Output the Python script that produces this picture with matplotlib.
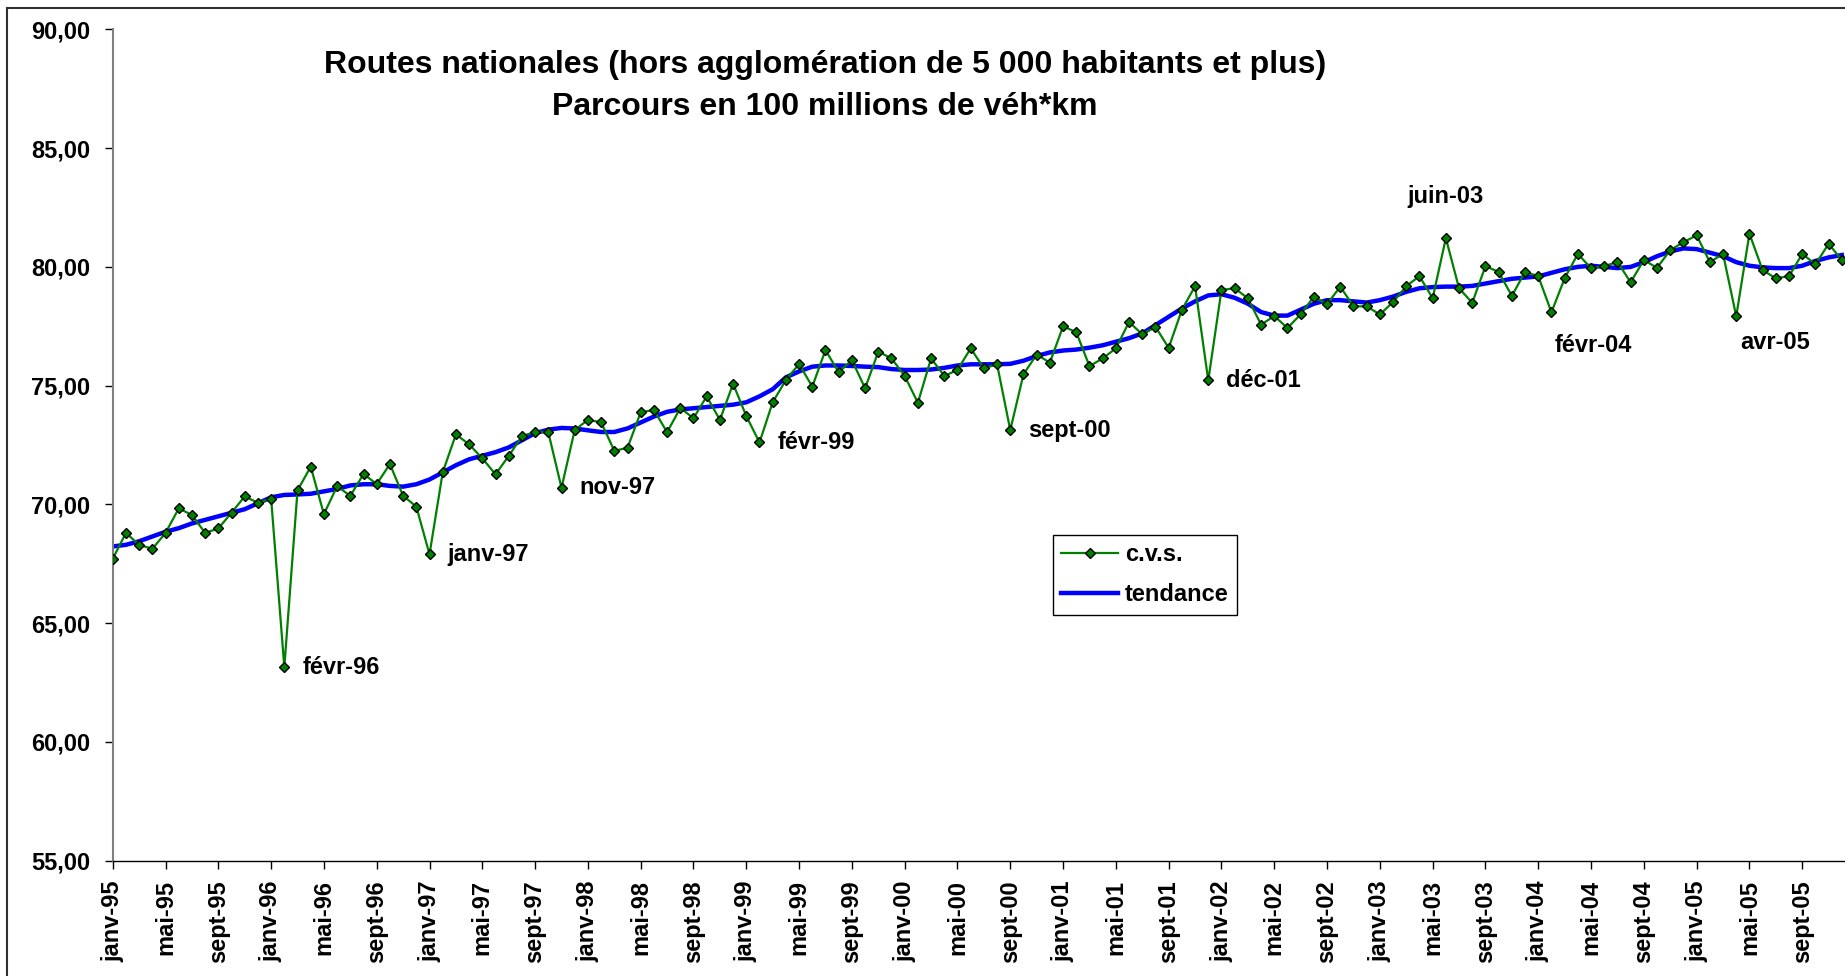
import matplotlib
matplotlib.use("Agg")
import matplotlib.pyplot as plt
from matplotlib.lines import Line2D
from matplotlib.patches import Rectangle
from matplotlib.ticker import FuncFormatter

plt.rcParams['font.family'] = ['Liberation Sans', 'DejaVu Sans']
plt.rcParams['font.weight'] = 'bold'

# mois janv-95 .. déc-05
mois = ['janv', 'févr', 'mars', 'avr', 'mai', 'juin',
        'juil', 'août', 'sept', 'oct', 'nov', 'déc']
annees = ['95', '96', '97', '98', '99', '00', '01', '02', '03', '04', '05']
categories = [m + '-' + a for a in annees for m in mois]

cvs = [67.71, 68.80, 68.30, 68.13, 68.80, 69.83, 69.56, 68.80, 68.99, 69.65, 70.34, 70.07,
       70.25, 63.15, 70.59, 71.59, 69.59, 70.77, 70.36, 71.28, 70.86, 71.70, 70.36, 69.91,
       67.90, 71.35, 72.95, 72.53, 71.94, 71.27, 72.04, 72.87, 73.06, 73.04, 70.70, 73.13,
       73.56, 73.46, 72.26, 72.38, 73.88, 73.98, 73.04, 74.06, 73.63, 74.55, 73.56, 75.08,
       73.72, 72.61, 74.30, 75.24, 75.91, 74.96, 76.50, 75.56, 76.08, 74.89, 76.43, 76.15,
       75.41, 74.28, 76.15, 75.41, 75.66, 76.57, 75.73, 75.90, 73.13, 75.48, 76.31, 75.97,
       77.50, 77.25, 75.82, 76.15, 76.57, 77.68, 77.16, 77.48, 76.59, 78.19, 79.19, 75.22,
       79.03, 79.10, 78.68, 77.57, 77.93, 77.43, 78.00, 78.75, 78.43, 79.17, 78.34, 78.34,
       78.00, 78.52, 79.19, 79.61, 78.68, 81.21, 79.10, 78.49, 80.03, 79.79, 78.78, 79.79,
       79.61, 78.09, 79.52, 80.55, 79.94, 80.03, 80.21, 79.35, 80.29, 79.96, 80.71, 81.04,
       81.33, 80.20, 80.55, 77.92, 81.40, 79.86, 79.52, 79.61, 80.55, 80.11, 80.97, 80.29]

tendance = [68.23, 68.30, 68.45, 68.65, 68.85, 69.00, 69.20, 69.35, 69.50, 69.65, 69.80, 70.05,
            70.30, 70.40, 70.42, 70.45, 70.55, 70.65, 70.80, 70.85, 70.85, 70.78, 70.75, 70.85,
            71.05, 71.35, 71.65, 71.90, 72.05, 72.20, 72.40, 72.70, 73.00, 73.15, 73.22, 73.20,
            73.12, 73.05, 73.05, 73.20, 73.45, 73.70, 73.90, 74.00, 74.05, 74.10, 74.15, 74.20,
            74.30, 74.55, 74.85, 75.35, 75.60, 75.80, 75.85, 75.85, 75.83, 75.80, 75.78, 75.70,
            75.66, 75.66, 75.68, 75.75, 75.85, 75.90, 75.90, 75.90, 75.92, 76.05, 76.25, 76.40,
            76.48, 76.52, 76.60, 76.70, 76.85, 77.00, 77.20, 77.55, 77.90, 78.25, 78.55, 78.80,
            78.85, 78.70, 78.45, 78.10, 77.95, 77.95, 78.20, 78.45, 78.60, 78.60, 78.55, 78.50,
            78.60, 78.75, 78.95, 79.10, 79.15, 79.17, 79.17, 79.20, 79.30, 79.40, 79.50, 79.55,
            79.60, 79.75, 79.90, 80.00, 80.05, 80.00, 79.95, 80.00, 80.20, 80.45, 80.65, 80.78,
            80.75, 80.60, 80.45, 80.20, 80.05, 79.98, 79.95, 79.95, 80.05, 80.25, 80.40, 80.50]

# points remarquables annotés
points_notes = ['févr-96', 'janv-97', 'nov-97', 'févr-99', 'sept-00',
                'déc-01', 'juin-03', 'févr-04', 'avr-05']

x = list(range(len(categories)))

fig = plt.figure(figsize=(18.45, 9.76), dpi=100)
ax = fig.add_axes([0.0611, 0.1181, 0.9389, 0.8518])

ax.plot(x, tendance, color='#0000FF', lw=3.2, zorder=2, label='tendance')
ax.plot(x, cvs, color='#008000', lw=1.6, marker='D', markersize=5.4,
        markerfacecolor='#008000', markeredgecolor='black', markeredgewidth=1.0,
        zorder=3, label='c.v.s.')

ax.set_xlim(0, 131.24)
ax.set_ylim(55, 90)
ax.set_yticks(range(55, 91, 5))
ax.yaxis.set_major_formatter(FuncFormatter(lambda v, p: f"{v:.2f}".replace('.', ',')))
ax.set_xticks(x[::4])
ax.set_xticklabels(categories[::4], rotation=90, fontsize=17, fontweight='bold')
ax.tick_params(axis='y', labelsize=17, length=6, width=1, direction='out', pad=10)
ax.tick_params(axis='x', length=6, width=1, direction='out', pad=8)
for t in ax.get_yticklabels():
    t.set_fontweight('bold')

ax.spines['top'].set_visible(False)
ax.spines['right'].set_visible(False)
ax.spines['left'].set_color('#808080')
ax.spines['left'].set_linewidth(1.5)
ax.spines['bottom'].set_color('black')
ax.spines['bottom'].set_linewidth(1.0)

# décalages des étiquettes (pixels)
decalages = {'juin-03': (0, 42, 'center'), 'févr-04': (42, -33, 'center'),
             'avr-05': (39, -26, 'center')}
for lab in points_notes:
    i = categories.index(lab)
    dx, dy, ha = decalages.get(lab, (18, 0, 'left'))
    ax.annotate(lab, (i, cvs[i]), xytext=(dx, dy), textcoords='offset pixels',
                ha=ha, va='center', fontsize=17, fontweight='bold')

fig.text(0.447, 0.9329, 'Routes nationales (hors agglomération de 5 000 habitants et plus)',
         ha='center', va='center', fontsize=23, fontweight='bold')
fig.text(0.447, 0.8908, 'Parcours en 100 millions de véh*km',
         ha='center', va='center', fontsize=23, fontweight='bold')

handles = [Line2D([], [], color='#008000', lw=1.6, marker='D', markersize=5.4,
                  markerfacecolor='#008000', markeredgecolor='black'),
           Line2D([], [], color='#0000FF', lw=3.2)]
leg = ax.legend(handles, ['c.v.s.', 'tendance'], loc='upper left',
                bbox_to_anchor=(0.5428, 0.3918), borderaxespad=0, fancybox=False,
                framealpha=1, edgecolor='black', prop={'size': 17, 'weight': 'bold'},
                handlelength=2.4, handletextpad=0.3, borderpad=0.35, labelspacing=0.72)
leg.get_frame().set_linewidth(1.0)

# cadre de la zone de graphique
fig.patches.append(Rectangle((7 / 1845, -0.1), 1.2, 1.1 - 8 / 976, fill=False,
                             edgecolor='#303030', lw=1.5, transform=fig.transFigure))

fig.savefig('out.png', dpi=100)
